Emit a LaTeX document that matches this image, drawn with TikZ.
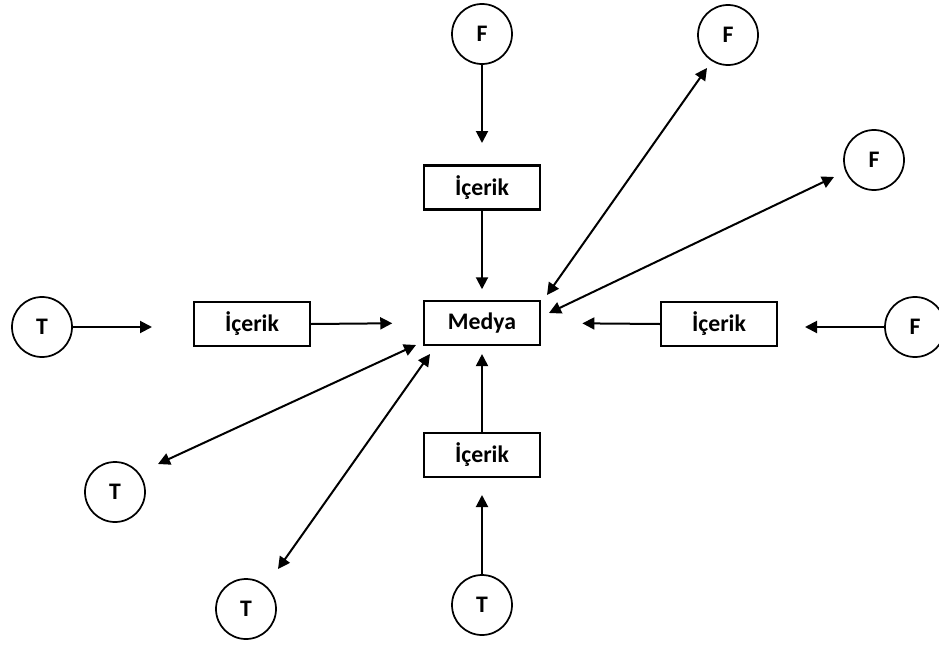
\documentclass[tikz,border=0pt]{standalone}
\usepackage{fontspec}
\setmainfont{Carlito}
\usetikzlibrary{arrows.meta}
\begin{document}
\begin{tikzpicture}[x=0.75pt,y=-0.75pt,
  every node/.style={font=\fontsize{17.8}{20}\selectfont\bfseries},
  boxnode/.style={draw,line width=1.6pt,minimum width=87pt,minimum height=33pt,inner sep=0pt},
  circnode/.style={draw,circle,line width=1.3pt,minimum size=45pt,inner sep=0pt},
  conn/.style={line width=1.5pt,-{Triangle[length=9pt,width=9pt]}},
  dconn/.style={line width=1.5pt,{Triangle[length=9pt,width=9pt]}-{Triangle[length=9pt,width=9pt]}}]
\useasboundingbox (0,0) rectangle (939,646);
% boxes
\node[boxnode] (med) at (482,323) {Medya};
\node[boxnode] (ic1) at (482,187.5) {İçerik};
\node[boxnode] (ic2) at (252,324) {İçerik};
\node[boxnode] (ic3) at (719,324) {İçerik};
\node[boxnode] (ic4) at (482,455) {İçerik};
% circles
\node[circnode] (F1) at (482,34) {F};
\node[circnode] (F2) at (728,35) {F};
\node[circnode] (F3) at (874,160) {F};
\node[circnode] (F4) at (915,327) {F};
\node[circnode] (T1) at (42,327) {T};
\node[circnode] (T2) at (115,492) {T};
\node[circnode] (T3) at (246,609) {T};
\node[circnode] (T4) at (482,605) {T};
% free ends
\coordinate (a1) at (482,143);
\coordinate (a2) at (152,327);
\coordinate (a3) at (805,327);
\coordinate (a4) at (482,495);
\coordinate (d1a) at (547,295);
\coordinate (d1b) at (707,68);
\coordinate (d2a) at (549,313);
\coordinate (d2b) at (834,177);
\coordinate (d3a) at (416,345);
\coordinate (d3b) at (158,464);
\coordinate (d4a) at (430,354);
\coordinate (d4b) at (278,569);
% connectors
\draw[conn] (F1.south) -- (a1);
\draw[conn,shorten >=8pt] (ic1.south) -- (med.north);
\draw[conn] (T1.east) -- (a2);
\draw[conn,shorten >=23pt] (ic2.east) -- (med.west);
\draw[conn] (F4.west) -- (a3);
\draw[conn,shorten >=31pt] (ic3.west) -- (med.east);
\draw[conn] (T4.north) -- (a4);
\draw[conn,shorten >=6pt] (ic4.north) -- (med.south);
\draw[dconn] (d1a) -- (d1b);
\draw[dconn] (d2a) -- (d2b);
\draw[dconn] (d3a) -- (d3b);
\draw[dconn] (d4a) -- (d4b);
\end{tikzpicture}
\end{document}
